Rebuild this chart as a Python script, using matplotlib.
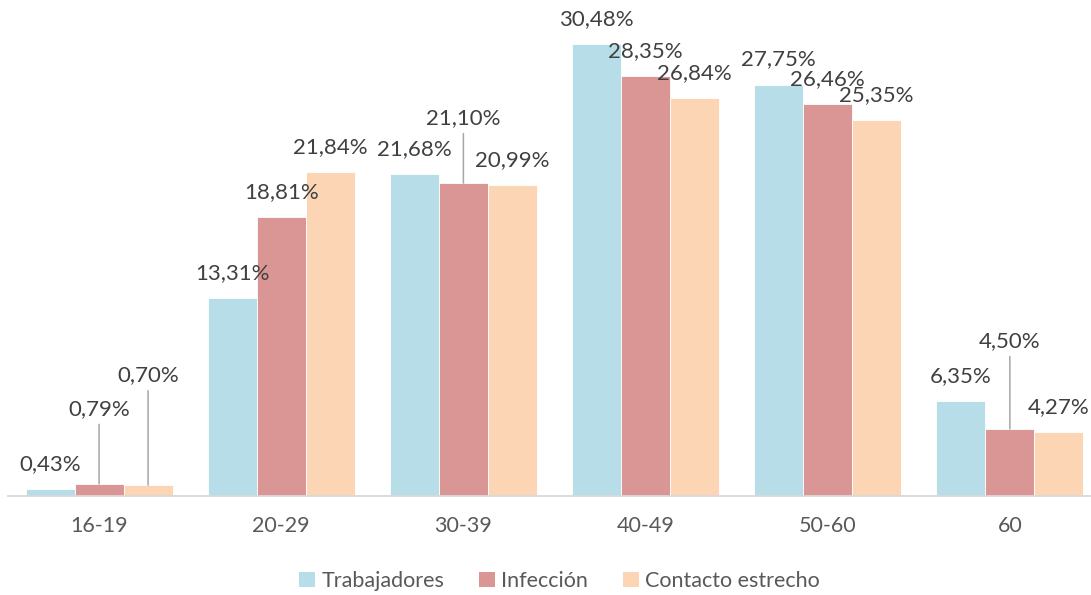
import numpy as np
import matplotlib.pyplot as plt
from matplotlib.patches import Patch

# Datos (porcentajes por grupo de edad)
grupos = ['16-19', '20-29', '30-39', '40-49', '50-60', '60']
trabajadores = [0.43, 13.31, 21.68, 30.48, 27.75, 6.35]
infeccion = [0.79, 18.81, 21.10, 28.35, 26.46, 4.50]
contacto = [0.70, 21.84, 20.99, 26.84, 25.35, 4.27]

series = ['Trabajadores', 'Infección', 'Contacto estrecho']
colores = ['#B7DEE8', '#D99694', '#FCD5B5']

plt.rcParams['font.family'] = ['Lato', 'DejaVu Sans']

fig = plt.figure(figsize=(10.91, 5.95), dpi=100)
ax = fig.add_axes([8 / 1091, 99.5 / 595, 1082 / 1091, 488.7 / 595])

x = np.arange(len(grupos))
ancho = 0.269
datos = [trabajadores, infeccion, contacto]

# desplazamiento de etiquetas (pixeles) para las que llevan linea guia
guias = {(1, 0): 75, (2, 0): 110, (1, 2): 65, (1, 5): 88}

for s, (valores, color) in enumerate(zip(datos, colores)):
    pos = x + (s - 1) * ancho
    ax.bar(pos, valores, width=ancho, color=color, edgecolor='white', linewidth=0.6)
    for i, v in enumerate(valores):
        texto = f'{v:.2f}%'.replace('.', ',')
        if (s, i) in guias:
            ax.annotate(texto, xy=(pos[i], v), xytext=(0, guias[(s, i)]),
                        textcoords='offset pixels', ha='center', va='center',
                        fontsize=16, color='#404040',
                        arrowprops=dict(arrowstyle='-', color='#A6A6A6', lw=1.1,
                                        shrinkA=2, shrinkB=0))
        else:
            ax.annotate(texto, xy=(pos[i], v), xytext=(0, 25),
                        textcoords='offset pixels', ha='center', va='center',
                        fontsize=16, color='#404040')

ax.set_xlim(-0.5, 5.44)
ax.set_ylim(0, 33)
ax.set_xticks(x)
ax.set_xticklabels(grupos, fontsize=15.5, color='#595959')
ax.tick_params(axis='x', length=0, pad=15)
ax.set_yticks([])
for lado in ['top', 'right', 'left']:
    ax.spines[lado].set_visible(False)
ax.spines['bottom'].set_color('#D9D9D9')
ax.spines['bottom'].set_linewidth(1.3)

handles = [Patch(facecolor=c, edgecolor='none') for c in colores]
fig.legend(handles, series, loc='center', bbox_to_anchor=(0.5 + 14 / 1091, 14 / 595),
           ncol=3, frameon=False, fontsize=15.5, handlelength=0.75, handleheight=0.75,
           handletextpad=0.3, columnspacing=1.6, labelcolor='#595959')

fig.savefig('out.png', dpi=100)
